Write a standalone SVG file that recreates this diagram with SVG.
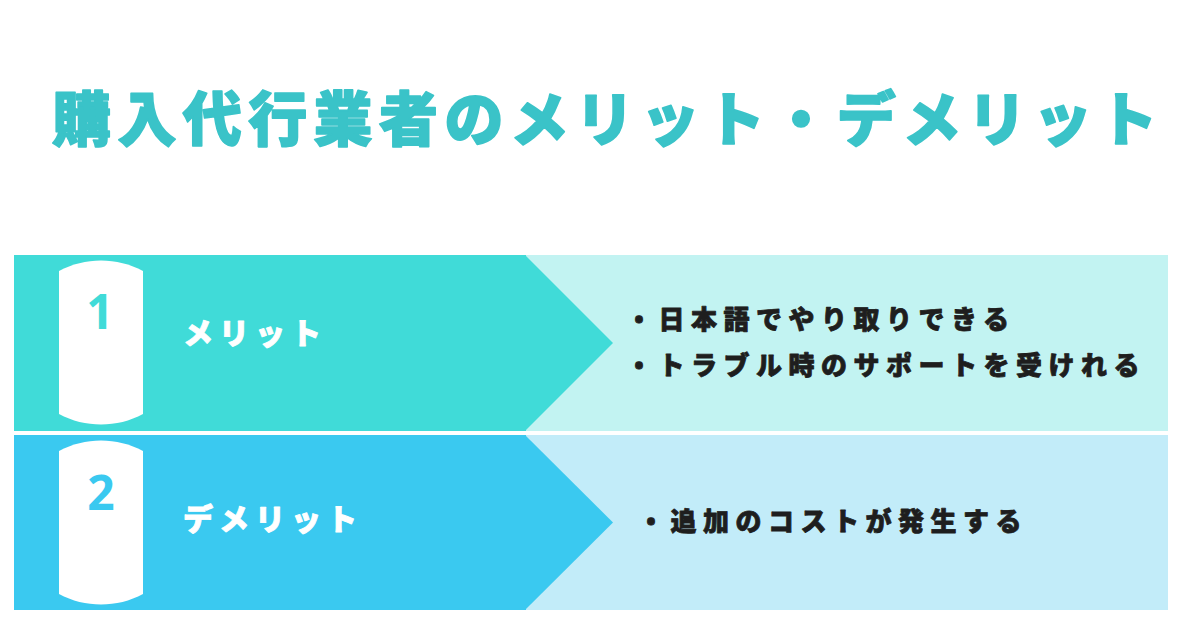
<svg xmlns="http://www.w3.org/2000/svg" width="1200" height="630" viewBox="0 0 1200 630">
<style>
.title{font-family:"Noto Sans CJK JP","Noto Sans",sans-serif;font-weight:900;font-size:59px;letter-spacing:6.4px;fill:#3AC3C8;stroke:#3AC3C8;stroke-width:1.6px;stroke-linejoin:round}
.num{font-family:"Open Sans","Noto Sans",sans-serif;font-weight:700;font-size:48px;text-anchor:middle}
.label{font-family:"Noto Sans CJK JP",sans-serif;font-weight:900;font-size:30px;letter-spacing:6px;fill:#FFFFFF;stroke:#FFFFFF;stroke-width:0.9px;stroke-linejoin:round}
.item{font-family:"Noto Sans CJK JP",sans-serif;font-weight:900;font-size:26px;letter-spacing:6.5px;fill:#1E1E1E;stroke:#1E1E1E;stroke-width:0.8px;stroke-linejoin:round}
.tab{fill:#FFFFFF}
</style>
<rect width="1200" height="630" fill="#FFFFFF"/>
<text class="title" x="52" y="141">購入代行業者のメリット・デメリット</text>
<g id="row1">
<rect x="526" y="255" width="642" height="176" fill="#C2F3F2"/>
<rect x="14" y="255" width="512" height="176" fill="#40DBD8"/>
<polygon points="525,255 613,343 525,431" fill="#40DBD8"/>
<path class="tab" d="M59,271 C85,257 117,257 143,271 L143,414 C117,428 85,428 59,414 Z"/>
<text class="num" x="100" y="329" fill="#40DBD8">1</text>
<text class="label" x="183" y="344">メリット</text>
<text class="item" x="626" y="328.5">・日本語でやり取りできる</text>
<text class="item" x="626" y="375">・トラブル時のサポートを受けれる</text>
</g>
<g id="row2">
<rect x="526" y="435" width="642" height="175" fill="#C2ECF9"/>
<rect x="14" y="435" width="512" height="175" fill="#3AC9F0"/>
<polygon points="525,435 613,522.5 525,610" fill="#3AC9F0"/>
<path class="tab" d="M59,451 C85,437 117,437 143,451 L143,594 C117,608 85,608 59,594 Z"/>
<text class="num" x="101" y="510" fill="#3AC9F0">2</text>
<text class="label" x="183" y="530">デメリット</text>
<text class="item" x="638" y="531">・追加のコストが発生する</text>
</g>
<g id="connectors"></g>
</svg>
